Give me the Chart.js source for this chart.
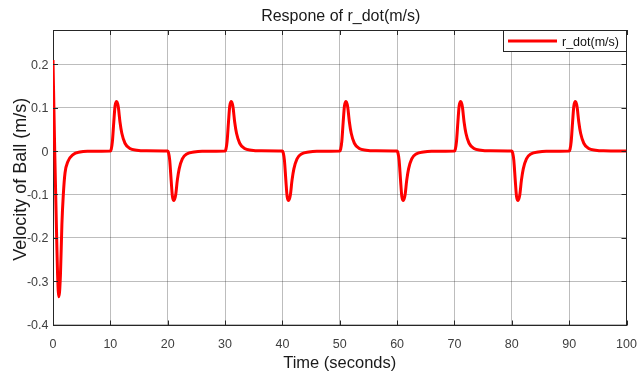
<!DOCTYPE html>
<html>
<head>
<meta charset="utf-8">
<title>Respone of r_dot(m/s)</title>
<script src="https://cdn.jsdelivr.net/npm/chart.js@4.4.1/dist/chart.umd.min.js"></script>
<style>
  html, body { margin: 0; padding: 0; background: #ffffff; }
  canvas { display: block; }
</style>
</head>
<body>
<canvas id="chart" width="637" height="373"></canvas>
<script>
// Ball velocity response: initial transient, then a pulse every 10 s
const timeSeconds = [
  0, 0.3, 0.47, 0.64, 0.8, 1.02, 1.3, 1.55, 1.8, 2.1, 2.6, 3.5, 4.7, 6.0,
  10, 10.15, 10.35, 10.6, 10.82, 11.1, 11.38, 11.68, 12.0, 12.55, 13.4, 14.6, 16.0,
  20, 20.15, 20.35, 20.6, 20.82, 21.1, 21.38, 21.68, 22.0, 22.55, 23.4, 24.6, 26.0,
  30, 30.15, 30.35, 30.6, 30.82, 31.1, 31.38, 31.68, 32.0, 32.55, 33.4, 34.6, 36.0,
  40, 40.15, 40.35, 40.6, 40.82, 41.1, 41.38, 41.68, 42.0, 42.55, 43.4, 44.6, 46.0,
  50, 50.15, 50.35, 50.6, 50.82, 51.1, 51.38, 51.68, 52.0, 52.55, 53.4, 54.6, 56.0,
  60, 60.15, 60.35, 60.6, 60.82, 61.1, 61.38, 61.68, 62.0, 62.55, 63.4, 64.6, 66.0,
  70, 70.15, 70.35, 70.6, 70.82, 71.1, 71.38, 71.68, 72.0, 72.55, 73.4, 74.6, 76.0,
  80, 80.15, 80.35, 80.6, 80.82, 81.1, 81.38, 81.68, 82.0, 82.55, 83.4, 84.6, 86.0,
  90, 90.15, 90.35, 90.6, 90.82, 91.1, 91.38, 91.68, 92.0, 92.55, 93.4, 94.6, 96.0,
  100
];
const velocity = [
  0.21, 0.0, -0.1, -0.2, -0.285, -0.336, -0.285, -0.17, -0.1, -0.05, -0.024, -0.008, -0.002, -0.0005,
  0, 0.004, 0.021, 0.067, 0.104, 0.114, 0.102, 0.067, 0.041, 0.018, 0.006, 0.002, 0.0005,
  0, -0.004, -0.021, -0.067, -0.104, -0.114, -0.102, -0.067, -0.041, -0.018, -0.006, -0.002, -0.0005,
  0, 0.004, 0.021, 0.067, 0.104, 0.114, 0.102, 0.067, 0.041, 0.018, 0.006, 0.002, 0.0005,
  0, -0.004, -0.021, -0.067, -0.104, -0.114, -0.102, -0.067, -0.041, -0.018, -0.006, -0.002, -0.0005,
  0, 0.004, 0.021, 0.067, 0.104, 0.114, 0.102, 0.067, 0.041, 0.018, 0.006, 0.002, 0.0005,
  0, -0.004, -0.021, -0.067, -0.104, -0.114, -0.102, -0.067, -0.041, -0.018, -0.006, -0.002, -0.0005,
  0, 0.004, 0.021, 0.067, 0.104, 0.114, 0.102, 0.067, 0.041, 0.018, 0.006, 0.002, 0.0005,
  0, -0.004, -0.021, -0.067, -0.104, -0.114, -0.102, -0.067, -0.041, -0.018, -0.006, -0.002, -0.0005,
  0, 0.004, 0.021, 0.067, 0.104, 0.114, 0.102, 0.067, 0.041, 0.018, 0.006, 0.002, 0.0005,
  0
];

const xTickValues = [0, 10, 20, 30, 40, 50, 60, 70, 80, 90, 100];
const xTickLabels = ['0', '10', '20', '30', '40', '50', '60', '70', '80', '90', '100'];
const yTickValues = [-0.4, -0.3, -0.2, -0.1, 0, 0.1, 0.2];
const yTickLabels = ['-0.4', '-0.3', '-0.2', '-0.1', '0', '0.1', '0.2'];

const chartTitle = 'Respone of r_dot(m/s)';
const xAxisTitle = 'Time (seconds)';
const yAxisTitle = 'Velocity of Ball (m/s)';
const seriesName = 'r_dot(m/s)';

const FONT = '"Liberation Sans", Arial, Helvetica, sans-serif';
const AXIS_COLOR = '#262626';
const LINE_COLOR = '#ff0000';

function text(ctx, str, x, y, size, color, align, baseline) {
  ctx.font = size + 'px ' + FONT;
  ctx.fillStyle = color;
  ctx.textAlign = align;
  ctx.textBaseline = baseline;
  ctx.fillText(str, x, y);
}

// Axes box, inward tick marks, labels, titles and the legend
const matlabAxes = {
  id: 'matlabAxes',
  beforeDatasetsDraw(chart) {
    const { ctx, chartArea: a } = chart;
    ctx.save();
    ctx.strokeStyle = AXIS_COLOR;
    ctx.lineWidth = 1;
    ctx.strokeRect(Math.round(a.left) + 0.5, Math.round(a.top) + 0.5,
      Math.round(a.right - a.left) - 1, Math.round(a.bottom - a.top) - 1);
    ctx.restore();
  },
  afterDraw(chart) {
    const { ctx, chartArea: a, scales } = chart;
    const xs = scales.x, ys = scales.y;
    ctx.save();

    // inward tick marks on all four sides
    ctx.strokeStyle = AXIS_COLOR;
    ctx.lineWidth = 1;
    const tl = 5;
    ctx.beginPath();
    xTickValues.forEach(v => {
      const px = Math.round(xs.getPixelForValue(v)) + 0.5;
      ctx.moveTo(px, a.bottom); ctx.lineTo(px, a.bottom - tl);
      ctx.moveTo(px, a.top); ctx.lineTo(px, a.top + tl);
    });
    yTickValues.forEach(v => {
      const py = Math.round(ys.getPixelForValue(v)) + 0.5;
      ctx.moveTo(a.left, py); ctx.lineTo(a.left + tl, py);
      ctx.moveTo(a.right, py); ctx.lineTo(a.right - tl, py);
    });
    ctx.stroke();

    // tick labels
    xTickValues.forEach((v, i) => {
      text(ctx, xTickLabels[i], xs.getPixelForValue(v), a.bottom + 22, 12.5, '#404040', 'center', 'alphabetic');
    });
    yTickValues.forEach((v, i) => {
      text(ctx, yTickLabels[i], a.left - 4.5, ys.getPixelForValue(v) + 4.5, 12.5, '#404040', 'right', 'alphabetic');
    });

    const cx = (a.left + a.right) / 2;
    const cy = (a.top + a.bottom) / 2;

    // title and axis titles
    text(ctx, chartTitle, cx + 1, 21, 16, '#1a1a1a', 'center', 'alphabetic');
    text(ctx, xAxisTitle, cx, 368, 16.5, '#1a1a1a', 'center', 'alphabetic');
    ctx.save();
    ctx.translate(26, cy + 1.5);
    ctx.rotate(-Math.PI / 2);
    text(ctx, yAxisTitle, 0, 0, 18, '#1a1a1a', 'center', 'alphabetic');
    ctx.restore();

    // legend in the upper right corner
    const lx = 503.5, ly = Math.round(a.top) + 0.5, lw = Math.round(a.right) - 504, lh = 21;
    ctx.fillStyle = '#ffffff';
    ctx.fillRect(lx, ly, lw, lh);
    ctx.strokeStyle = AXIS_COLOR;
    ctx.lineWidth = 1;
    ctx.strokeRect(lx, ly, lw, lh);
    ctx.strokeStyle = LINE_COLOR;
    ctx.lineWidth = 3;
    ctx.beginPath();
    ctx.moveTo(508, ly + 10.5);
    ctx.lineTo(557, ly + 10.5);
    ctx.stroke();
    text(ctx, seriesName, 562, ly + 15.5, 12.5, '#111111', 'left', 'alphabetic');

    ctx.restore();
  }
};

const points = timeSeconds.map((t, i) => ({ x: t, y: velocity[i] }));

new Chart(document.getElementById('chart'), {
  type: 'line',
  data: {
    datasets: [{
      label: seriesName,
      data: points,
      borderColor: LINE_COLOR,
      backgroundColor: LINE_COLOR,
      borderWidth: 3,
      pointRadius: 0,
      fill: false,
      cubicInterpolationMode: 'monotone'
    }]
  },
  options: {
    responsive: false,
    animation: false,
    devicePixelRatio: 1,
    layout: { padding: { left: 53, right: 10.5, top: 30, bottom: 47.5 } },
    plugins: {
      legend: { display: false },
      title: { display: false },
      tooltip: { enabled: false }
    },
    scales: {
      x: {
        type: 'linear',
        min: 0,
        max: 100,
        afterBuildTicks: s => { s.ticks = xTickValues.map(v => ({ value: v })); },
        afterFit: s => { s.height = 0; },
        ticks: { display: false },
        grid: { color: 'rgba(38,38,38,0.3)', lineWidth: 1, drawTicks: false },
        border: { display: false }
      },
      y: {
        type: 'linear',
        min: -0.402,
        max: 0.279,
        afterBuildTicks: s => { s.ticks = yTickValues.map(v => ({ value: v })); },
        afterFit: s => { s.width = 0; },
        ticks: { display: false },
        grid: { color: 'rgba(38,38,38,0.3)', lineWidth: 1, drawTicks: false },
        border: { display: false }
      }
    }
  },
  plugins: [matlabAxes]
});
</script>
</body>
</html>
